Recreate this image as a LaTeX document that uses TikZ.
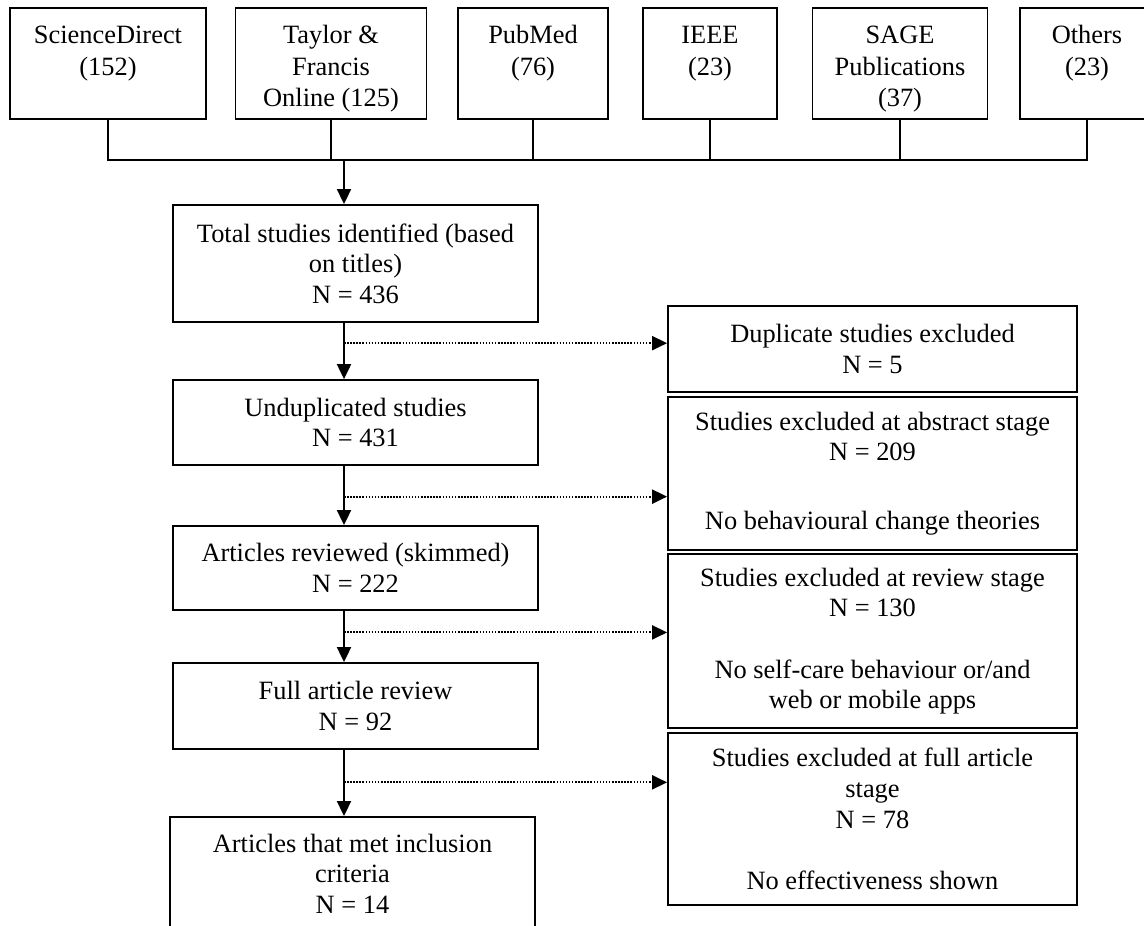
\documentclass[tikz,border=0pt]{standalone}
\usepackage{fontspec}
\setmainfont{Liberation Serif}
\usepackage{tikz}
\usetikzlibrary{
  arrows.meta, positioning, calc
}
\newcommand{\srctop}{\rule{0pt}{16.2pt}}
\newcommand{\srcbot}{\rule[-5.7pt]{0pt}{5.7pt}}

\begin{document}
\begin{tikzpicture}[
    x=0.4545pt, y=-0.4545pt,
    box/.style={draw, line width=0.85pt, align=center, inner sep=0pt,
                font=\fontsize{12pt}{13.9pt}\selectfont},
    srcbox/.style={box, minimum height=50.5pt,
                   font=\fontsize{12pt}{14.3pt}\selectfont},
    mainbox/.style={box, minimum width=165.9pt},
    outbox/.style={box, minimum width=185.9pt},
    conn/.style={line width=0.75pt},
    arr/.style={conn, -{Triangle[length=6.8pt, width=6.4pt]}},
    dotarr/.style={line width=0.9pt, dash pattern=on 0.7pt off 0.7pt,
                   -{Triangle[length=6.8pt, width=6.4pt]}}
  ]
    \useasboundingbox (0,0) rectangle (1144,926);

    % databases
    \node[srcbox, minimum width=89.1pt] (sd)   at (108,63.5)  {\srctop ScienceDirect\\(152)\\\srcbot};
    \node[srcbox, minimum width=86.8pt] (tf)   at (331,63.5)  {\srctop Taylor \&\\Francis\\Online (125)\srcbot};
    \node[srcbox, minimum width=68.2pt] (pm)   at (533,63.5)  {\srctop PubMed\\(76)\\\srcbot};
    \node[srcbox, minimum width=60.9pt] (ieee) at (710,63.5)  {\srctop IEEE\\(23)\\\srcbot};
    \node[srcbox, minimum width=79.5pt] (sage) at (900,63.5)  {\srctop SAGE\\Publications\\(37)\srcbot};
    \node[srcbox, minimum width=60.9pt] (oth)  at (1087,63.5) {\srctop Others\\(23)\\\srcbot};

    % main stages
    \node[mainbox, minimum height=53.2pt] (total) at (355.5,263.5)
      {Total studies identified (based\\on titles)\\N = 436};
    \node[mainbox, minimum height=38.6pt] (undup) at (355.5,422.5)
      {Unduplicated studies\\N = 431};
    \node[mainbox, minimum height=38.2pt] (skim) at (355.5,568)
      {Articles reviewed (skimmed)\\N = 222};
    \node[mainbox, minimum height=39.1pt] (fullrev) at (355.5,706)
      {Full article review\\N = 92};
    \node[mainbox, minimum height=51.4pt] (incl) at (352.5,873.5)
      {Articles that met inclusion\\criteria\\N = 14};

    % exclusions
    \node[outbox, minimum height=39.1pt] (dup) at (872.5,349)
      {Duplicate studies excluded\\N = 5};
    \node[outbox, minimum height=69.5pt] (exabs) at (872.5,473.5)
      {Studies excluded at abstract stage\\N = 209\\[17.3pt]No behavioural change theories};
    \node[outbox, minimum height=79.1pt] (exrev) at (872.5,641)
      {Studies excluded at review stage\\N = 130\\[14pt]No self-care behaviour or/and\\web or mobile apps};
    \node[outbox, minimum height=78.2pt] (exfull) at (872.5,819)
      {Studies excluded at full article\\stage\\N = 78\\[14pt]No effectiveness shown};

    \coordinate (bus) at (0,160);
    \coordinate (spine) at (344,0);

    \draw[conn] (sd.south) -- (sd.south |- bus) -- (oth.south |- bus) -- (oth.south);
    \foreach \n in {tf, pm, ieee, sage} {
      \draw[conn] (\n.south) -- (\n.south |- bus);
    }
    \draw[arr] (bus -| spine) -- (total.north -| spine);

    \draw[arr] (total.south -| spine) -- (undup.north -| spine);
    \draw[arr] (undup.south -| spine) -- (skim.north -| spine);
    \draw[arr] (skim.south -| spine) -- (fullrev.north -| spine);
    \draw[arr] (fullrev.south -| spine) -- (incl.north -| spine);

    \coordinate (d1) at ($(total.south -| spine)!0.36!(undup.north -| spine)$);
    \coordinate (d2) at ($(undup.south -| spine)!0.52!(skim.north -| spine)$);
    \coordinate (d3) at ($(skim.south -| spine)!0.42!(fullrev.north -| spine)$);
    \coordinate (d4) at ($(fullrev.south -| spine)!0.49!(incl.north -| spine)$);
    \draw[dotarr] (d1) -- (d1 -| dup.west);
    \draw[dotarr] (d2) -- (d2 -| exabs.west);
    \draw[dotarr] (d3) -- (d3 -| exrev.west);
    \draw[dotarr] (d4) -- (d4 -| exfull.west);
  \end{tikzpicture}
\end{document}
